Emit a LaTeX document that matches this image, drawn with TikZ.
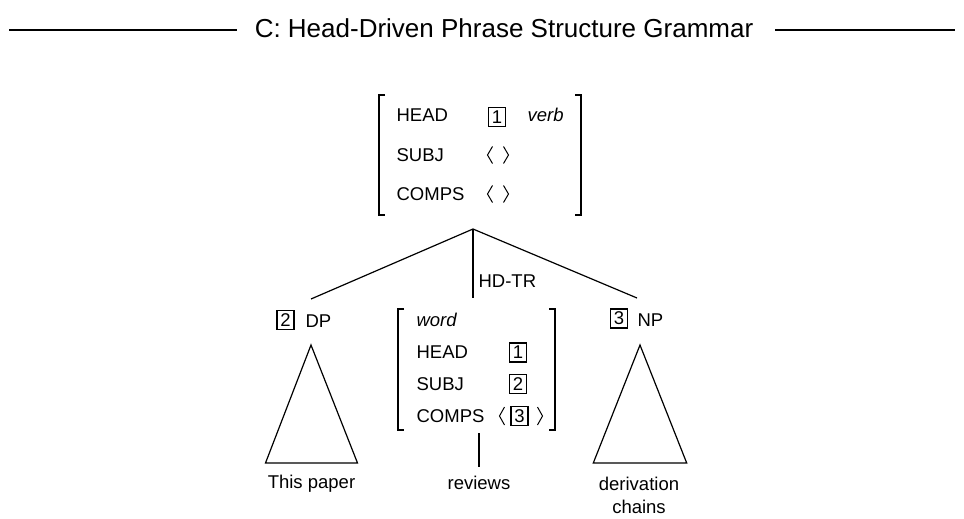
\documentclass[tikz,border=0pt]{standalone}
\usepackage{fontspec}
\setmainfont{Liberation Sans}
\newcommand{\avmfont}{\fontsize{18.5}{22.3}\selectfont}
\begin{document}
\begin{tikzpicture}[x=1pt,y=-1pt,line width=1.2pt,
  lbl/.style={inner sep=0pt,anchor=base west,font=\avmfont},
  clbl/.style={inner sep=0pt,anchor=base,font=\avmfont},
  tag/.style={draw,line width=1.4pt,inner sep=0pt,minimum width=17pt,minimum height=19pt,font=\avmfont},
  brk/.style={line width=1.3pt},
  ang/.style={line width=1pt,line join=miter},
  edge/.style={line width=1.2pt}]
\useasboundingbox (0,0) rectangle (964,519);

% title
\node[inner sep=0pt,anchor=base,font=\fontsize{26}{30}\selectfont] (title) at (504,37.7) {C: Head-Driven Phrase Structure Grammar};
\coordinate (tl1) at (9,30); \coordinate (tl2) at (237,30);
\coordinate (tr1) at (775,30); \coordinate (tr2) at (955,30);
\draw[edge] (tl1) -- (tl2);
\draw[edge] (tr1) -- (tr2);

% top AVM
\draw[brk] (385,95) -- (379,95) -- (379,215) -- (385,215);
\draw[brk] (575,95) -- (581,95) -- (581,215) -- (575,215);
\node[lbl] (thead) at (396,121.7) {HEAD};
\node[lbl] (tsubj) at (396,161.7) {SUBJ};
\node[lbl] (tcomps) at (396,200.7) {COMPS};
\node[tag] (tb1) at (497,117) {1};
\node[lbl,font=\avmfont\itshape] (tverb) at (527,121.7) {verb};
\draw[ang] (492.5,146.5) -- (487.5,155) -- (492.5,163.5);
\draw[ang] (503.5,146.5) -- (508.5,155) -- (503.5,163.5);
\draw[ang] (492.5,185.5) -- (487.5,194) -- (492.5,202.5);
\draw[ang] (503.5,185.5) -- (508.5,194) -- (503.5,202.5);

% tree edges
\coordinate (root) at (473,229);
\coordinate (dptop) at (311,299);
\coordinate (hdtop) at (473,298);
\coordinate (nptop) at (637,298);
\draw[edge] (root) -- (dptop);
\draw[edge] (root) -- (hdtop);
\draw[edge] (root) -- (nptop);
\node[lbl] (hdtr) at (478,287) {HD-TR};

% DP
\node[tag] (dpb) at (285.5,320) {2};
\node[lbl] (dp) at (305,327) {DP};
\coordinate (dpa) at (311,345);
\coordinate (dpl) at (265.5,463);
\coordinate (dpr) at (357.5,463);
\draw[edge,line join=miter] (dpa) -- (dpl) -- (dpr) -- cycle;
\node[clbl] (thispaper) at (311.5,488.5) {This paper};

% middle AVM
\draw[brk] (404,309) -- (398,309) -- (398,430) -- (404,430);
\draw[brk] (549,309) -- (555,309) -- (555,430) -- (549,430);
\node[lbl,font=\avmfont\itshape] (mword) at (416,326) {word};
\node[lbl] (mhead) at (416,358.3) {HEAD};
\node[lbl] (msubj) at (416,390) {SUBJ};
\node[lbl] (mcomps) at (416,422.3) {COMPS};
\node[tag] (mb1) at (518,352.5) {1};
\node[tag] (mb2) at (518,384) {2};
\node[tag] (mb3) at (519.5,416) {3};
\draw[ang] (504.5,407) -- (499.5,416) -- (504.5,425);
\draw[ang] (537.5,407) -- (542.5,416) -- (537.5,425);
\coordinate (rvtop) at (479,433);
\coordinate (rvbot) at (479,466.7);
\draw[edge] (rvtop) -- (rvbot);
\node[clbl] (reviews) at (479,489.5) {reviews};

% NP
\node[tag] (npb) at (619,318.5) {3};
\node[lbl] (np) at (637,326) {NP};
\coordinate (npa) at (640,345);
\coordinate (npl) at (593.3,463);
\coordinate (npr) at (686.7,463);
\draw[edge,line join=miter] (npa) -- (npl) -- (npr) -- cycle;
\node[clbl,align=center] (deriv) at (639,513) {derivation\\chains};
\end{tikzpicture}
\end{document}
